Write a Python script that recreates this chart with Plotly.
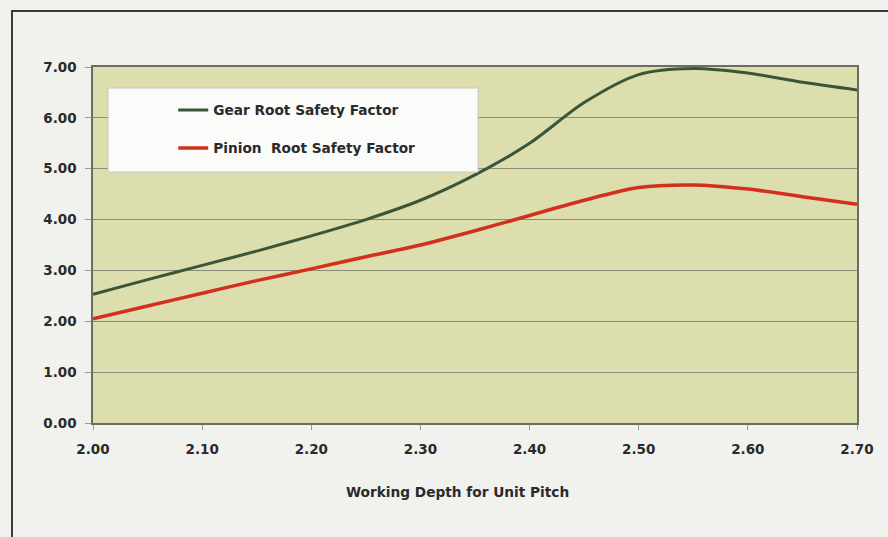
import plotly.graph_objects as go

# Working depth (unit pitch) and computed root safety factors
depth = [2.00, 2.05, 2.10, 2.15, 2.20, 2.25, 2.30, 2.35, 2.40, 2.45, 2.50, 2.55, 2.60, 2.65, 2.70]
gear_sf = [2.53, 2.82, 3.10, 3.38, 3.68, 4.00, 4.38, 4.88, 5.50, 6.30, 6.85, 6.97, 6.88, 6.70, 6.55]
pinion_sf = [2.05, 2.30, 2.55, 2.80, 3.03, 3.27, 3.50, 3.78, 4.08, 4.38, 4.63, 4.68, 4.60, 4.45, 4.30]

x_ticks = [2.00, 2.10, 2.20, 2.30, 2.40, 2.50, 2.60, 2.70]
y_ticks = [0, 1, 2, 3, 4, 5, 6, 7]
x_title = "Working Depth for Unit Pitch"

FONT = "DejaVu Sans, Verdana, sans-serif"
TXT = "#2a2a2a"

fig = go.Figure()
fig.add_trace(go.Scatter(
    x=depth, y=gear_sf, mode="lines", name="Gear Root Safety Factor",
    line=dict(color="#3b5538", width=3, shape="spline", smoothing=0.8),
    legend="legend",
))
fig.add_trace(go.Scatter(
    x=depth, y=pinion_sf, mode="lines", name="Pinion  Root Safety Factor",
    line=dict(color="#d3301c", width=3.5, shape="spline", smoothing=0.8),
    legend="legend2",
))

legend_common = dict(
    bgcolor="rgba(0,0,0,0)", borderwidth=0,
    font=dict(family=FONT, size=13.7, color=TXT, weight="bold"),
    xanchor="left", yanchor="middle",
)

fig.update_layout(
    width=888, height=537,
    margin=dict(l=93, r=31, t=67, b=114),
    paper_bgcolor="#f1f1ee",
    plot_bgcolor="#dcdeae",
    showlegend=True,
    legend=dict(x=0.105, y=0.879, **legend_common),
    legend2=dict(x=0.105, y=0.772, **legend_common),
    xaxis=dict(
        range=[2.0, 2.7], tickvals=x_ticks, tickformat=".2f",
        showgrid=False, zeroline=False,
        showline=True, linecolor="#6d6d62", linewidth=1.5, mirror=True,
        ticks="outside", ticklen=5, tickcolor="#9a9a90",
        ticklabelstandoff=8,
        tickfont=dict(family=FONT, size=13.5, color=TXT, weight="bold"),
    ),
    yaxis=dict(
        range=[0, 7], tickvals=y_ticks, tickformat=".2f",
        showgrid=True, gridcolor="#8c8c78", gridwidth=1.2,
        zeroline=False,
        showline=True, linecolor="#6d6d62", linewidth=1.5, mirror=True,
        ticks="outside", ticklen=6, tickcolor="#9a9a90",
        ticklabelstandoff=6,
        tickfont=dict(family=FONT, size=13.5, color=TXT, weight="bold"),
    ),
    annotations=[
        dict(text=x_title, xref="paper", yref="paper",
             x=(457 - 93) / 764, y=(423 - 492) / 356,
             xanchor="center", yanchor="middle", showarrow=False,
             font=dict(family=FONT, size=13.7, color=TXT, weight="bold")),
    ],
    shapes=[
        # white legend panel
        dict(type="rect", xref="paper", yref="paper",
             x0=(108 - 93) / 764, x1=(478 - 93) / 764,
             y0=(423 - 172) / 356, y1=(423 - 88) / 356,
             fillcolor="#fbfbfa", line=dict(color="#c9c9bf", width=1),
             layer="above"),
        # outer chart frame
        dict(type="rect", xref="paper", yref="paper",
             x0=(12 - 93) / 764, x1=(905 - 93) / 764,
             y0=(423 - 560) / 356, y1=(423 - 11) / 356,
             fillcolor="rgba(0,0,0,0)", line=dict(color="#3a3a3a", width=2),
             layer="below"),
    ],
)

fig.write_html("out.html")
